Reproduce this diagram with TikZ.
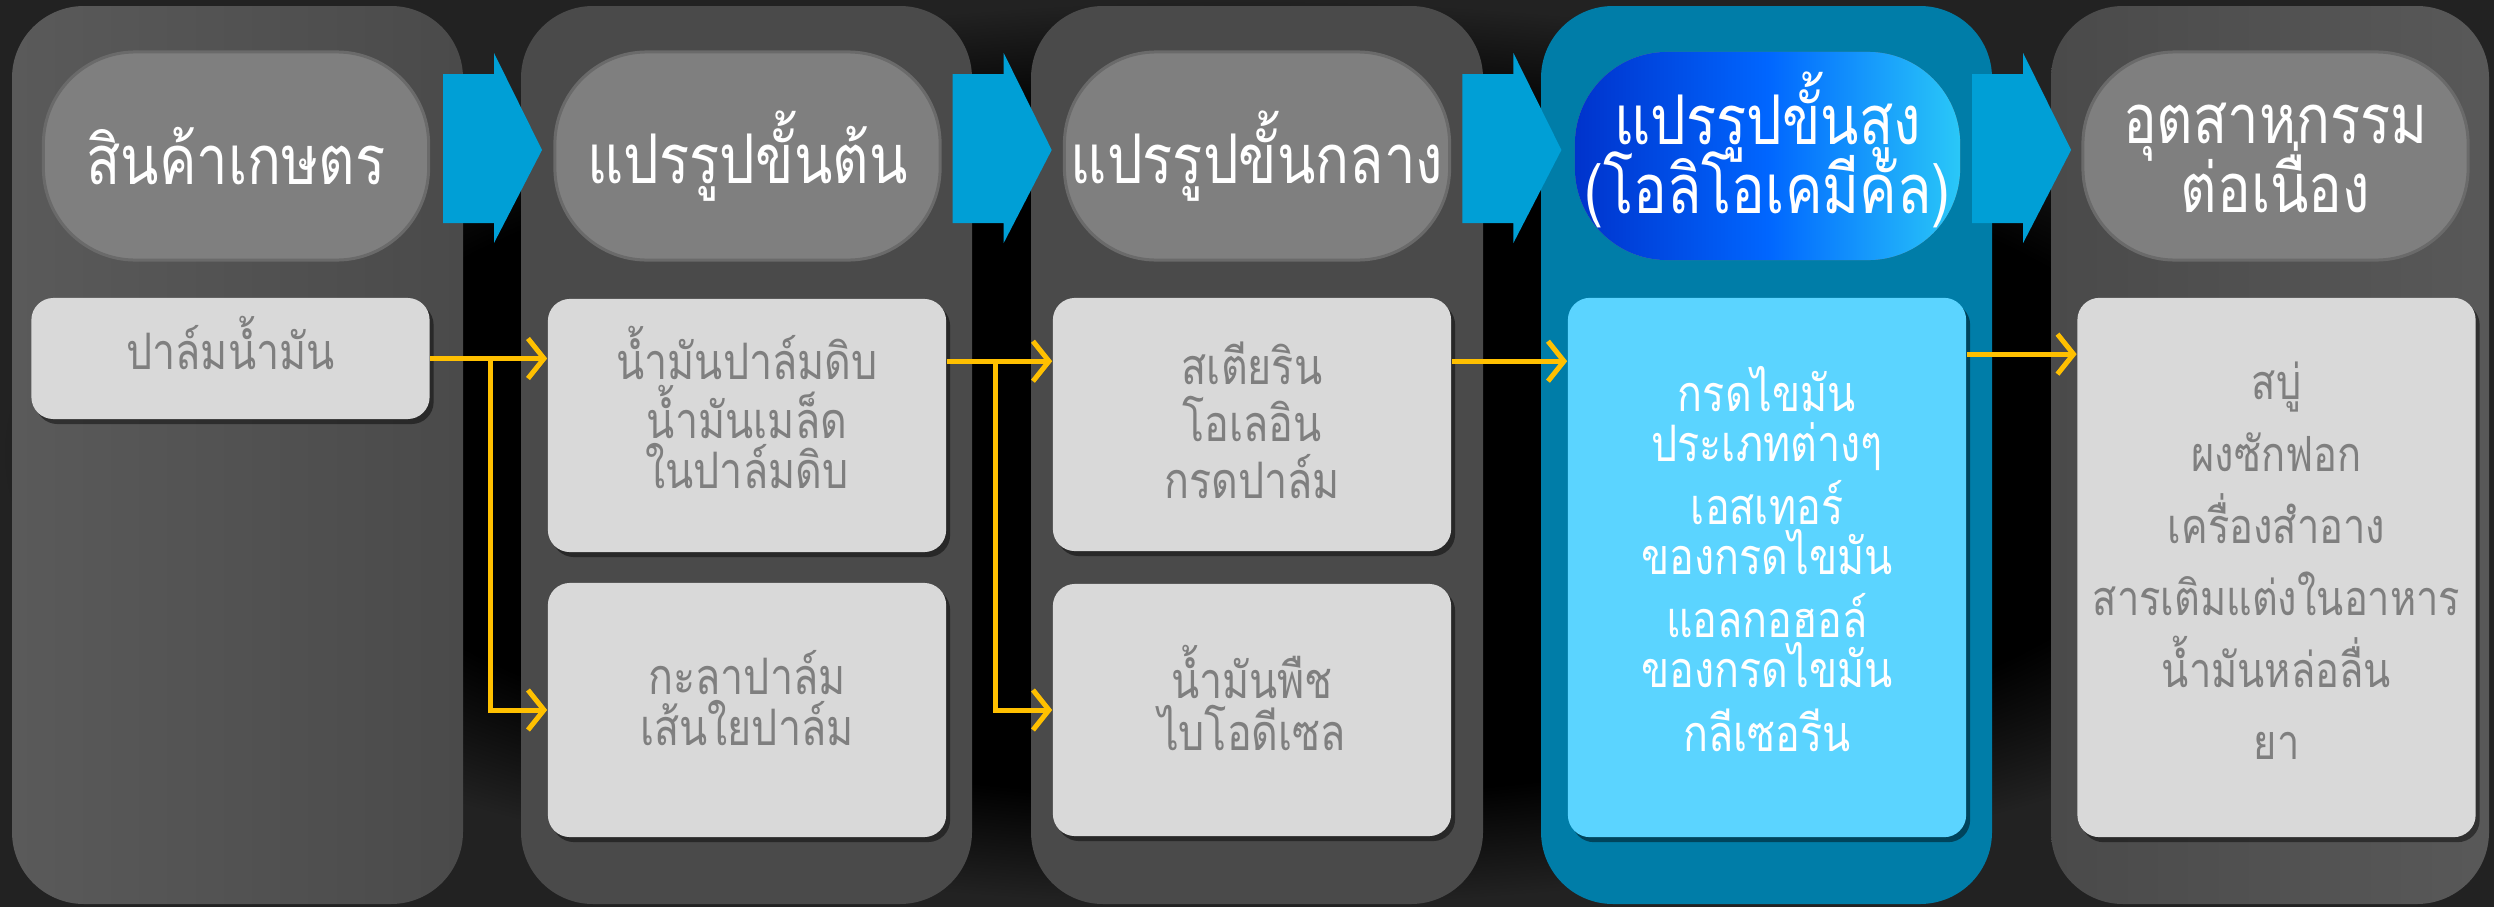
\documentclass[tikz,border=0pt]{standalone}
\usepackage{fontspec}
\newfontfamily\thaifont[Script=Thai,FakeStretch=0.82]{Loma}
\newcommand\tightlines{\lineskiplimit-100pt\relax}
\usetikzlibrary{shadows,calc,arrows.meta}
\definecolor{colgray}{HTML}{4A4A4A}
\definecolor{colgrayL}{HTML}{5A5A5A}
\definecolor{colblue}{HTML}{007DA8}
\definecolor{hdrgray}{HTML}{7F7F7F}
\definecolor{hdredge}{HTML}{6A6A6A}
\definecolor{boxgray}{HTML}{D9D9D9}
\definecolor{txtgray}{HTML}{7F7F7F}
\definecolor{boxblue}{HTML}{5BD4FF}
\definecolor{arrowblue}{HTML}{009FD6}
\definecolor{ylw}{HTML}{FFC000}
\definecolor{hdrA}{HTML}{0033CC}
\definecolor{hdrB}{HTML}{0066FF}
\definecolor{hdrC}{HTML}{2AC8F8}
\definecolor{bgg}{HTML}{222222}
\pgfdeclareradialshading{bgshade}{\pgfpoint{0bp}{0bp}}{color(0bp)=(black); color(19bp)=(black); color(25bp)=(bgg); color(50bp)=(bgg)}
\begin{document}
\begin{tikzpicture}[x=0.01cm,y=-0.01cm,
  colbox/.style={rounded corners=0.72cm},
  hdr/.style={minimum width=3.85cm, minimum height=2.08cm, rounded corners=0.92cm, fill=hdrgray, draw=hdredge, line width=0.03cm, inner sep=0pt},
  htxt/.style={text=white, align=center, inner sep=0pt, font=\thaifont\fontsize{19.5}{#1}\selectfont\tightlines},
  htxt/.default=19.5,
  box/.style={fill=boxgray, rounded corners=0.22cm, inner sep=0pt, minimum width=3.98cm, drop shadow={shadow xshift=0.04cm, shadow yshift=-0.05cm, opacity=0.45, fill=black}},
  btxt/.style={text=txtgray, align=center, inner sep=0pt, font=\thaifont\fontsize{14.3}{#1}\selectfont\tightlines},
  yl/.style={draw=ylw, line width=0.05cm, -{Straight Barb[length=0.16cm,width=0.4cm]}},
  chev/.style={fill=arrowblue}
]
\useasboundingbox (0,0) rectangle (2494,906);
\path[shading=bgshade] (0,0) rectangle (2494,906);

% columns
\path[colbox, left color=colgrayL, right color=colgray] (12,6) rectangle (463,904);
\path[colbox, fill=colgray] (521,6) rectangle (972,904);
\path[colbox, fill=colgray] (1031,6) rectangle (1483,904);
\path[colbox, fill=colblue] (1541,6) rectangle (1992,904);
\path[colbox, left color=colgray, right color=colgrayL!90!colgray] (2051,6) rectangle (2489,904);

% chevron arrows between stages
\foreach \i in {0,1,2,3}{
  \pgfmathsetmacro{\dx}{509.7*\i}
  \path[chev] ({443+\dx},74) -- ({494+\dx},74) -- ({494+\dx},53) -- ({542+\dx},150) -- ({494+\dx},243) -- ({494+\dx},223) -- ({443+\dx},223) -- cycle;
}

% headers
\node[hdr] (h1) at (236,156) {};
\node[hdr] (h2) at (747.5,156) {};
\node[hdr] (h3) at (1257,156) {};
\node[hdr, draw=none, left color=hdrA, right color=hdrC, middle color=hdrB] (h4) at (1767.5,156) {};
\node[hdr] (h5) at (2275.5,156) {};
\node[htxt] (th1) at (h1) {สินค้าเกษตร};
\node[htxt] (th2) at (h2) {แปรรูปขั้นต้น};
\node[htxt] (th3) at (h3) {แปรรูปขั้นกลาง};
\node[htxt=19.5] (th4) at ($(h4)+(0,-6)$) {แปรรูปขั้นสูง\\(โอลิโอเคมีคัล)};
\node[htxt=19.5] (th5) at ($(h5)+(0,2)$) {อุตสาหกรรม\\ต่อเนื่อง};

% boxes
\node[box, minimum height=1.21cm] (b1) at (230.5,358.5) {};
\node[box, minimum height=2.53cm] (b2a) at (747,425.5) {};
\node[box, minimum height=2.54cm] (b2b) at (747,710) {};
\node[box, minimum height=2.53cm] (b3a) at (1252,424.5) {};
\node[box, minimum height=2.52cm] (b3b) at (1252,710) {};
\node[box, fill=boxblue, minimum height=5.39cm] (b4) at (1767,567.5) {};
\node[box, minimum height=5.39cm] (b5) at (2276.5,567.5) {};

\node[btxt=13] (t1) at ($(b1)+(0,-16)$) {ปาล์มน้ำมัน};
\node[btxt=14.2] (t2a) at ($(b2a)+(0,-18)$) {น้ำมันปาล์มดิบ\\[2.6pt]น้ำมันเมล็ด\\ในปาล์มดิบ};
\node[btxt=14.6] (t2b) at ($(b2b)+(0,-12)$) {กะลาปาล์ม\\เส้นใยปาล์ม};
\node[btxt=16.2] (t3a) at ($(b3a)+(0,-4)$) {สเตียริน\\โอเลอิน\\กรดปาล์ม};
\node[btxt=14.6] (t3b) at ($(b3b)+(0,-12)$) {น้ำมันพืช\\ไบโอดีเซล};
\node[btxt=14.1, text=white] (t4) at ($(b4)+(0,-8)$) {กรดไขมัน\\ประเภทต่างๆ\\[3.9pt]เอสเทอร์\\ของกรดไขมัน\\[3.9pt]แอลกอฮอล์\\ของกรดไขมัน\\[4.3pt]กลีเซอรีน};
\node[btxt, font=\thaifont\fontsize{13.8}{20.5}\selectfont\tightlines] (t5) at ($(b5)+(0,-7)$) {สบู่\\ผงซักฟอก\\เครื่องสำอาง\\สารเติมแต่งในอาหาร\\น้ำมันหล่อลื่น\\ยา};

% connectors
\coordinate (j1) at ($(b1.east)+(60,0)$);
\draw[yl] (b1.east) -- (b1.east -| b2a.west);
\draw[yl] (j1) |- (b2b.west);
\coordinate (s2) at ($(b2a.north east)+(0,63)$);
\coordinate (j2) at ($(s2)+(49,0)$);
\draw[yl] (s2) -- (s2 -| b3a.west);
\draw[yl] (j2) |- (b3b.west);
\coordinate (s3) at ($(b3a.north east)+(0,64)$);
\draw[yl] (s3) -- (s3 -| b4.west);
\coordinate (s4) at ($(b4.north east)+(0,57)$);
\draw[yl] (s4) -- (s4 -| b5.west);
\end{tikzpicture}
\end{document}
